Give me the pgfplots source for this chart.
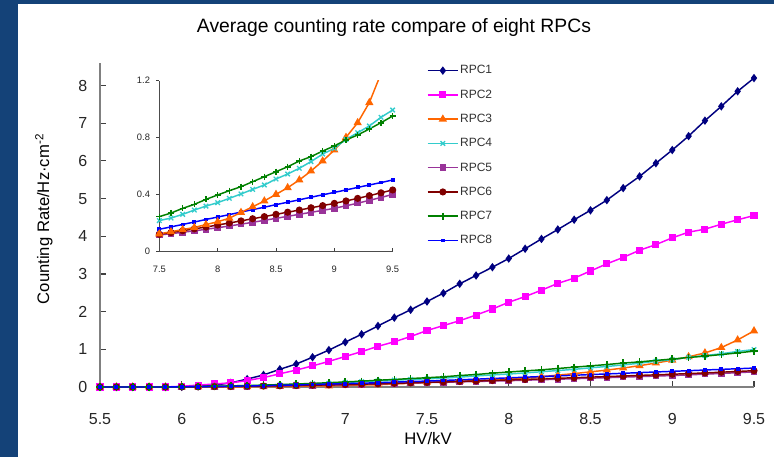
\documentclass[border=0pt]{standalone}
\usepackage{pgfplots}
\pgfplotsset{compat=1.18}
\usepackage{pgfplotstable}
\usepackage{fontspec}
\setmainfont{Liberation Sans}
\definecolor{bgblue}{RGB}{20,66,120}
\definecolor{c1}{RGB}{0,0,128}
\definecolor{c2}{RGB}{255,0,255}
\definecolor{c3}{RGB}{255,102,0}
\definecolor{c4}{RGB}{51,204,204}
\definecolor{c5}{RGB}{153,51,153}
\definecolor{c6}{RGB}{128,0,0}
\definecolor{c7}{RGB}{0,128,0}
\definecolor{c8}{RGB}{0,0,255}

\pgfplotstableread{
x   r1    r2    r3     r4     r5     r6     r7     r8
5.5 0     0     0      0      0      0      0      0
5.6 0     0     0      0      0      0      0      0
5.7 0     0     0      0      0      0      0      0
5.8 0     0     0      0      0      0      0      0
5.9 0     0     0      0      0      0      0      0
6.0 0.005 0.02  0      0.005  0.003  0.003  0.005  0.005
6.1 0.02  0.05  0      0.01   0.006  0.006  0.01   0.01
6.2 0.05  0.08  0      0.015  0.01   0.01   0.02   0.015
6.3 0.11  0.11  0      0.02   0.014  0.015  0.03   0.02
6.4 0.21  0.17  0.005  0.03   0.019  0.02   0.04   0.03
6.5 0.32  0.25  0.01   0.04   0.024  0.025  0.05   0.035
6.6 0.47  0.35  0.015  0.055  0.03   0.032  0.065  0.045
6.7 0.61  0.45  0.02   0.07   0.037  0.04   0.08   0.055
6.8 0.79  0.56  0.025  0.085  0.044  0.048  0.095  0.065
6.9 0.98  0.68  0.03   0.10   0.052  0.056  0.115  0.08
7.0 1.19  0.81  0.04   0.12   0.06   0.065  0.135  0.09
7.1 1.40  0.94  0.05   0.14   0.07   0.075  0.155  0.10
7.2 1.62  1.08  0.06   0.16   0.08   0.086  0.18   0.115
7.3 1.84  1.20  0.08   0.18   0.092  0.097  0.20   0.13
7.4 2.05  1.34  0.10   0.20   0.105  0.11   0.225  0.145
7.5 2.27  1.50  0.125  0.218  0.117  0.122  0.246  0.157
7.6 2.49  1.63  0.14   0.236  0.126  0.134  0.271  0.174
7.7 2.74  1.76  0.155  0.262  0.136  0.147  0.304  0.191
7.8 2.96  1.91  0.17   0.292  0.146  0.16   0.332  0.208
7.9 3.18  2.07  0.19   0.320  0.157  0.173  0.367  0.226
8.0 3.41  2.25  0.21   0.344  0.168  0.187  0.398  0.243
8.1 3.67  2.40  0.235  0.374  0.180  0.201  0.428  0.260
8.2 3.93  2.57  0.275  0.405  0.193  0.216  0.456  0.278
8.3 4.18  2.75  0.315  0.437  0.206  0.231  0.491  0.295
8.4 4.44  2.89  0.356  0.468  0.220  0.246  0.526  0.312
8.5 4.69  3.08  0.402  0.510  0.234  0.262  0.561  0.330
8.6 4.96  3.27  0.449  0.545  0.248  0.277  0.596  0.347
8.7 5.28  3.44  0.503  0.585  0.262  0.292  0.636  0.364
8.8 5.59  3.63  0.566  0.632  0.276  0.308  0.667  0.382
8.9 5.94  3.78  0.636  0.685  0.290  0.323  0.706  0.399
9.0 6.29  3.96  0.713  0.725  0.304  0.339  0.742  0.416
9.1 6.66  4.11  0.802  0.788  0.322  0.356  0.784  0.433
9.2 7.07  4.19  0.905  0.835  0.340  0.374  0.819  0.451
9.3 7.45  4.32  1.046  0.882  0.360  0.393  0.861  0.468
9.4 7.85  4.44  1.25   0.943  0.380  0.413  0.905  0.485
9.5 8.20  4.55  1.49   0.994  0.402  0.433  0.952  0.503
}\data

\pgfplotsset{
  s1/.style={c1, line width=1.1pt, mark=diamond*, mark size=2.3pt, mark options={solid}},
  s2/.style={c2, line width=1.1pt, mark=square*, mark size=2.1pt, mark options={solid}},
  s3/.style={c3, line width=1.1pt, mark=triangle*, mark size=2.5pt, mark options={solid}},
  s4/.style={c4, line width=1.1pt, mark=x, mark size=2.4pt, mark options={solid, line width=1pt}},
  s5/.style={c5, line width=1.1pt, mark=square*, mark size=1.9pt, mark options={solid}},
  s6/.style={c6, line width=1.1pt, mark=*, mark size=2.1pt, mark options={solid}},
  s7/.style={c7, line width=1.1pt, mark=+, mark size=2.7pt, mark options={solid, line width=1.2pt}},
  s8/.style={c8, line width=1.1pt, mark=square*, mark size=0.9pt, mark options={solid}},
}

\begin{document}
\begin{tikzpicture}
\useasboundingbox (-75pt,-52.5pt) rectangle (505.5pt,290.25pt);
\fill[bgblue] (-75pt,-52.5pt) rectangle (505.5pt,290.25pt);
\fill[white] (-61.5pt,-52.5pt) rectangle (505.5pt,287.25pt);
\node[font=\fontsize{14.5}{16}\selectfont] at (220.5pt,269.5pt) {Average counting rate compare of eight RPCs};
\node[font=\fontsize{12.5}{14}\selectfont, rotate=90] at (-42pt,126pt) {Counting Rate/Hz·cm\textsuperscript{-2}};
\node[font=\fontsize{12.5}{14}\selectfont] at (246pt,-39pt) {HV/kV};

\begin{axis}[
  at={(0pt,0pt)}, anchor=south west, scale only axis,
  width=490.5pt, height=243pt,
  xmin=5.5, xmax=9.5, ymin=0, ymax=8.6,
  axis x line*=bottom, axis y line*=left,
  axis line style={gray, line width=0.8pt},
  tick align=inside, major tick length=4.5pt,
  tick style={black!75, line width=0.8pt},
  xtick={5.5,6,6.5,7,7.5,8,8.5,9,9.5},
  ytick={0,1,2,3,4,5,6,7,8},
  /pgf/number format/assume math mode=true,
  ticklabel style={font=\fontsize{12}{14}\selectfont, text=black!85},
  xticklabel style={yshift=-16pt},
  yticklabel style={xshift=-6pt},
  legend style={at={(0.4995,1.0)}, anchor=north west, draw=none, fill=none,
    font=\fontsize{9}{11}\selectfont, inner sep=0pt, row sep=7.2pt,
    nodes={inner sep=1pt, text height=7pt, text depth=2pt, text=black!80}},
  legend cell align=left,
  legend image code/.code={\draw[mark repeat=2,mark phase=2] plot coordinates {(0cm,0cm) (0.4cm,0cm) (0.8cm,0cm)};},
]
\addplot[s1] table[x=x,y=r1]{\data};
\addplot[s2] table[x=x,y=r2]{\data};
\addplot[s3] table[x=x,y=r3]{\data};
\addplot[s4] table[x=x,y=r4]{\data};
\addplot[s5] table[x=x,y=r5]{\data};
\addplot[s6] table[x=x,y=r6]{\data};
\addplot[s7] table[x=x,y=r7]{\data};
\addplot[s8] table[x=x,y=r8]{\data};
\legend{RPC1,RPC2,RPC3,RPC4,RPC5,RPC6,RPC7,RPC8}
\end{axis}

\begin{axis}[
  at={(44.5pt,101.5pt)}, anchor=south west, scale only axis,
  width=175pt, height=128.25pt,
  xmin=7.5, xmax=9.5, ymin=0, ymax=1.2,
  axis x line*=bottom, axis y line*=left,
  axis line style={black!70, line width=0.7pt},
  tick align=inside, major tick length=2.5pt,
  tick style={black!75, line width=0.7pt},
  ytick style={xshift=-2.5pt},
  xtick={7.5,8,8.5,9,9.5},
  ytick={0,0.4,0.8,1.2},
  /pgf/number format/assume math mode=true,
  ticklabel style={font=\fontsize{7}{8}\selectfont, text=black!85},
  xticklabel style={yshift=-7pt},
  yticklabel style={xshift=-3.5pt},
  restrict x to domain=7.45:9.55,
  every axis plot/.append style={mark size=1.9pt},
]
\addplot[s5] table[x=x,y=r5]{\data};
\addplot[s6] table[x=x,y=r6]{\data};
\addplot[s8, mark size=0.9pt] table[x=x,y=r8]{\data};
\addplot[s3, mark=none] table[x=x,y=r3]{\data};
\addplot[s3, only marks, restrict y to domain=0:1.2] table[x=x,y=r3]{\data};
\addplot[s4] table[x=x,y=r4]{\data};
\addplot[s7, mark size=2.3pt] table[x=x,y=r7]{\data};
\end{axis}
\end{tikzpicture}
\end{document}
